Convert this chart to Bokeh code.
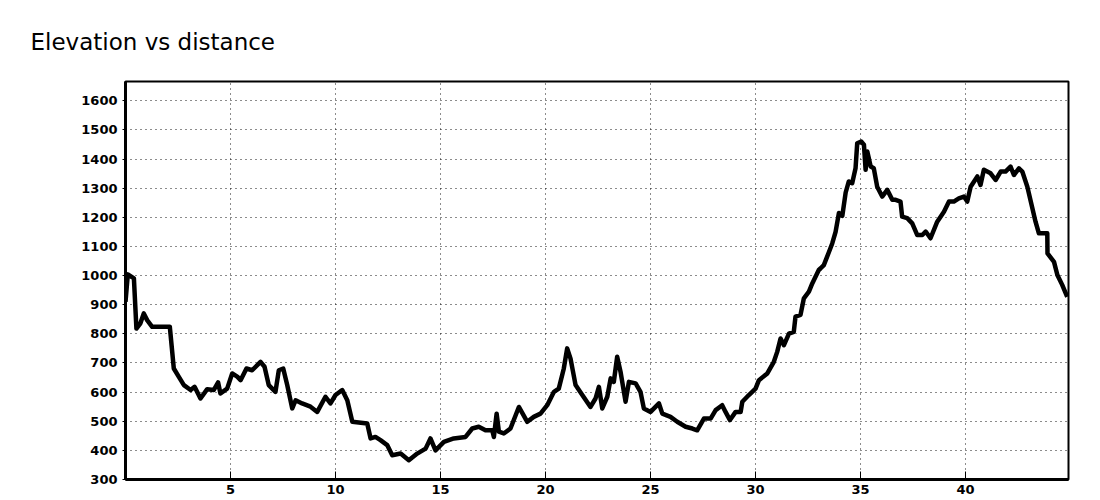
from bokeh.plotting import figure
from bokeh.models import Range1d, FixedTicker, Title
from bokeh.embed import file_html
from bokeh.resources import INLINE

# distance along the route (km) and elevation (m)
dist_km = [0.00, 0.11, 0.40, 0.52, 0.71, 0.87, 1.03, 1.27, 2.11, 2.30, 2.54, 2.78, 3.10, 3.29,
           3.57, 3.89, 4.20, 4.41, 4.52, 4.84, 5.08, 5.32, 5.48, 5.76, 6.03, 6.43, 6.62, 6.82,
           7.14, 7.30, 7.51, 7.70, 7.94, 8.10, 8.41, 8.81, 9.13, 9.52, 9.76, 10.00, 10.32, 10.56,
           10.80, 11.51, 11.67, 11.90, 12.14, 12.46, 12.70, 13.10, 13.49, 13.89, 14.29, 14.52,
           14.76, 15.16, 15.63, 16.19, 16.51, 16.82, 17.14, 17.46, 17.54, 17.67, 17.78, 18.01,
           18.33, 18.73, 19.13, 19.44, 19.76, 20.08, 20.40, 20.63, 20.87, 21.03, 21.19, 21.43,
           21.75, 22.14, 22.38, 22.54, 22.70, 22.94, 23.10, 23.25, 23.41, 23.57, 23.81, 23.97,
           24.29, 24.52, 24.68, 25.00, 25.40, 25.56, 25.95, 26.27, 26.67, 26.99, 27.22, 27.54,
           27.86, 28.10, 28.41, 28.57, 28.78, 29.05, 29.29, 29.37, 29.68, 30.00, 30.16, 30.56,
           30.87, 31.03, 31.19, 31.35, 31.59, 31.82, 31.90, 32.14, 32.30, 32.54, 32.70, 33.01,
           33.10, 33.25, 33.49, 33.65, 33.81, 33.97, 34.13, 34.29, 34.44, 34.60, 34.76, 34.84,
           35.03, 35.16, 35.24, 35.32, 35.48, 35.63, 35.79, 36.03, 36.27, 36.51, 36.67, 36.90,
           36.98, 37.22, 37.46, 37.70, 37.94, 38.10, 38.33, 38.65, 38.97, 39.21, 39.44, 39.68,
           39.92, 40.08, 40.24, 40.56, 40.71, 40.87, 41.19, 41.43, 41.67, 41.90, 42.14, 42.30,
           42.54, 42.70, 42.94, 43.18, 43.33, 43.49, 43.89, 43.90, 44.21, 44.37, 44.60, 44.84]
elev_m = [910, 1004, 990, 818, 836, 870, 847, 824, 824, 681, 652, 624, 607, 618,
          578, 610, 607, 633, 595, 612, 664, 653, 641, 681, 675, 704, 687, 624,
          601, 675, 681, 624, 544, 572, 561, 550, 532, 584, 561, 590, 607, 572,
          498, 492, 441, 446, 435, 418, 383, 389, 366, 389, 406, 441,
          400, 429, 441, 446, 475, 481, 469, 469, 446, 526, 464, 458,
          475, 549, 498, 515, 526, 555, 601, 612, 681, 750, 715, 624,
          590, 549, 578, 618, 544, 584, 647, 635, 721, 670, 567, 635,
          630, 601, 544, 532, 561, 526, 515, 498, 481, 475, 469, 509,
          509, 538, 555, 532, 504, 532, 532, 567, 590, 612, 641, 664,
          704, 738, 784, 761, 801, 807, 859, 865, 922, 945, 973, 1019,
          1025, 1036, 1080, 1110, 1150, 1215, 1205, 1285, 1323, 1317, 1368, 1454,
          1460, 1449, 1363, 1426, 1374, 1368, 1305, 1271, 1294, 1260, 1260, 1254,
          1202, 1197, 1179, 1139, 1139, 1151, 1128, 1185, 1219, 1254, 1254, 1265,
          1271, 1254, 1305, 1340, 1311, 1363, 1351, 1328, 1357, 1357, 1374, 1345,
          1368, 1357, 1305, 1231, 1185, 1145, 1145, 1076, 1047, 1002, 968, 927]

x_ticks = [5, 10, 15, 20, 25, 30, 35, 40]
y_ticks = [300, 400, 500, 600, 700, 800, 900, 1000, 1100, 1200, 1300, 1400, 1500, 1600]
title_text = "Elevation vs distance"

p = figure(width=1092, height=500, output_backend="svg", toolbar_location=None,
           x_range=Range1d(0, 44.9), y_range=Range1d(300, 1666),
           min_border_left=125, min_border_right=24, min_border_top=80, min_border_bottom=21)

p.title = Title(text=title_text, text_font="DejaVu Sans", text_font_size="23px",
                text_font_style="normal", text_color="black", align="left",
                offset=-95, standoff=53)

p.line(dist_km, elev_m, line_color="black", line_width=4.5, line_join="round")

p.xaxis.ticker = FixedTicker(ticks=x_ticks)
p.yaxis.ticker = FixedTicker(ticks=y_ticks)
for ax in (p.xaxis, p.yaxis):
    ax.axis_line_color = "black"
    ax.axis_line_width = 3
    ax.major_tick_line_color = "black"
    ax.major_tick_line_width = 1
    ax.minor_tick_line_color = None
    ax.major_label_text_font = "DejaVu Sans"
    ax.major_label_text_font_size = "13px"
    ax.major_label_text_font_style = "bold"
    ax.major_label_text_color = "black"
p.xaxis.major_tick_in = 8
p.xaxis.major_tick_out = 0
p.xaxis.major_label_standoff = 5
p.yaxis.major_tick_in = 0
p.yaxis.major_tick_out = 3
p.yaxis.major_label_standoff = 5

for g in (p.xgrid, p.ygrid):
    g.grid_line_color = "black"
    g.grid_line_width = 1
    g.grid_line_dash = "1 4"
    g.grid_line_alpha = 0.9

p.outline_line_color = "black"
p.outline_line_width = 2
p.outline_line_alpha = 1
p.background_fill_color = "white"
p.border_fill_color = "white"

open("out.html", "w").write(file_html(p, INLINE))
